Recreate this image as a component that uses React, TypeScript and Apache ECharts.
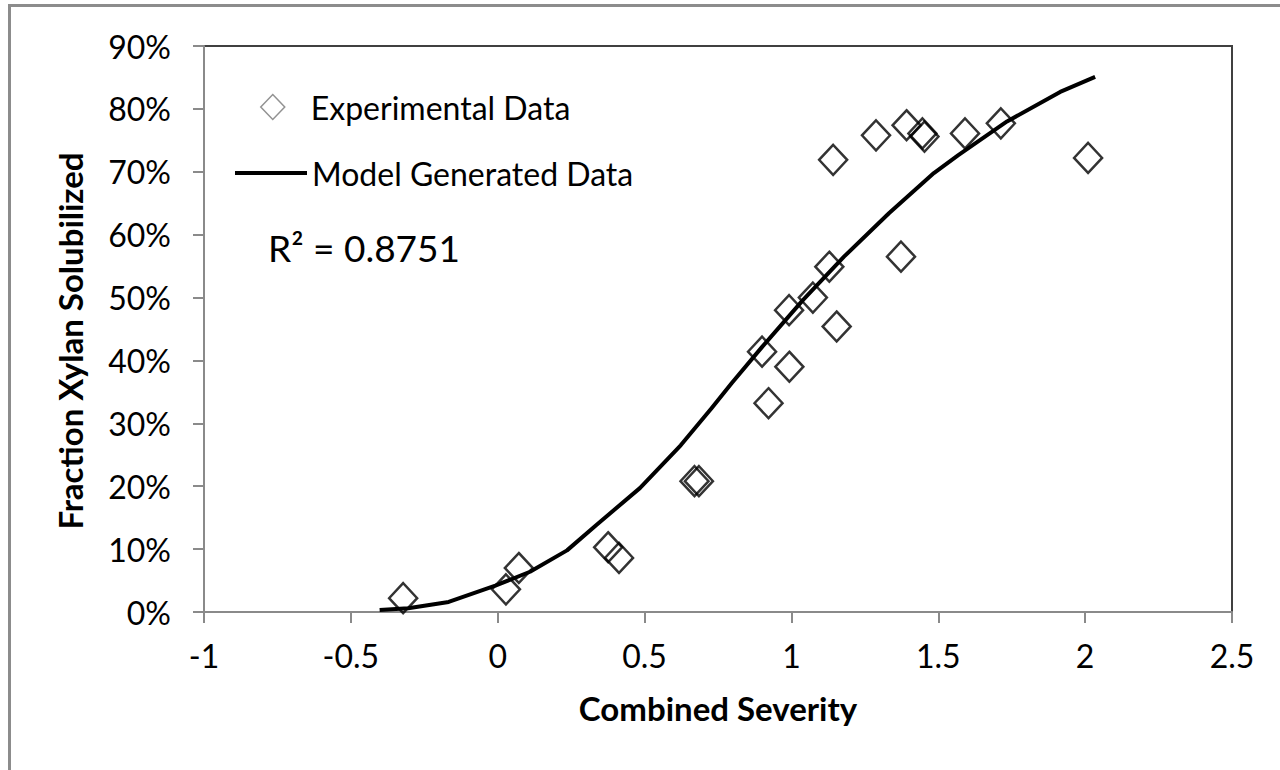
import React, { useEffect, useRef } from "react";
import * as echarts from "echarts";

const expX = [-0.322, 0.028, 0.072, 0.376, 0.413, 0.67, 0.685, 0.9, 0.922, 0.993, 0.992, 1.073, 1.129, 1.154, 1.142, 1.288, 1.373, 1.392, 1.446, 1.453, 1.591, 1.713, 2.01];
const expY = [2.2, 3.6, 7.0, 10.3, 8.6, 20.8, 20.8, 41.4, 33.2, 39.0, 48.0, 50.0, 54.9, 45.4, 71.9, 75.8, 56.5, 77.4, 76.1, 75.6, 76.1, 77.7, 72.2];

const modelX = [-0.402, -0.305, -0.167, -0.008, 0.11, 0.236, 0.335, 0.484, 0.623, 0.728, 0.797, 0.901, 1.039, 1.179, 1.332, 1.485, 1.567, 1.734, 1.915, 2.034];
const modelY = [0.3, 0.6, 1.6, 4.2, 6.4, 9.8, 13.8, 19.7, 26.5, 32.4, 36.4, 42.2, 49.6, 56.5, 63.4, 69.8, 72.6, 78.0, 82.7, 85.1];

const xTicks = { min: -1, max: 2.5, interval: 0.5 };
const yTicks = { min: 0, max: 90, interval: 10 };

const FONT = "Lato";

export default function App() {
  const ref = useRef<HTMLDivElement>(null);
  useEffect(() => {
    if (!ref.current) return;
    const chart = echarts.init(ref.current, undefined, { renderer: "svg" });
    const axisLine = { show: true, onZero: false, lineStyle: { color: "#8a8a8a", width: 2 } };
    const axisTick = { show: true, inside: false, length: 11, lineStyle: { color: "#8a8a8a", width: 2 } };
    chart.setOption({
      animation: false,
      backgroundColor: "#fff",
      grid: {
        left: 204,
        right: 48,
        top: 46,
        bottom: 158,
        show: true,
        borderColor: "#404040",
        borderWidth: 2,
        containLabel: false,
      },
      legend: [
        {
          data: [{ name: "Experimental Data", icon: "diamond" }],
          left: 255,
          top: 86,
          orient: "vertical",
          itemWidth: 24,
          itemHeight: 25,
          itemStyle: { color: "#fff", borderColor: "#777", borderWidth: 1.5 },
          textStyle: { fontFamily: FONT, fontSize: 32, color: "#000", padding: [0, 0, 0, 21] },
          selectedMode: false,
        },
        {
          data: [{ name: "Model Generated Data", icon: "rect" }],
          left: 230,
          top: 152,
          orient: "vertical",
          itemWidth: 72,
          itemHeight: 4,
          itemStyle: { color: "#000", borderWidth: 0 },
          textStyle: { fontFamily: FONT, fontSize: 32, color: "#000" },
          selectedMode: false,
        },
      ],
      xAxis: {
        type: "value",
        min: xTicks.min,
        max: xTicks.max,
        interval: xTicks.interval,
        splitLine: { show: false },
        axisLine,
        axisTick,
        axisLabel: {
          fontFamily: FONT,
          fontSize: 32,
          color: "#000",
          margin: 27,
          formatter: (v: number) => String(v),
        },
        name: "Combined Severity",
        nameLocation: "middle",
        nameGap: 79,
        nameTextStyle: { fontFamily: FONT, fontSize: 33, fontWeight: "bold", color: "#000" },
      },
      yAxis: {
        type: "value",
        min: yTicks.min,
        max: yTicks.max,
        interval: yTicks.interval,
        splitLine: { show: false },
        axisLine,
        axisTick,
        axisLabel: {
          fontFamily: FONT,
          fontSize: 32,
          color: "#000",
          margin: 33,
          formatter: "{value}%",
        },
        name: "Fraction Xylan Solubilized",
        nameLocation: "middle",
        nameGap: 118,
        nameRotate: 90,
        nameTextStyle: {
          fontFamily: FONT,
          fontSize: 33,
          fontWeight: "bold",
          color: "#000",
          padding: [0, 24, 0, 0],
        },
      },
      graphic: [
        { type: "line", shape: { x1: 8, y1: 5.5, x2: 1280, y2: 5.5 }, style: { stroke: "#8c8c8c", lineWidth: 3 }, silent: true },
        { type: "line", shape: { x1: 9.5, y1: 4, x2: 9.5, y2: 770 }, style: { stroke: "#8c8c8c", lineWidth: 3 }, silent: true },
        {
          type: "text",
          left: 268,
          top: 229,
          style: { text: "R² = 0.8751", font: `37px ${FONT}`, fill: "#000" },
          silent: true,
        },
      ],
      series: [
        {
          name: "Model Generated Data",
          type: "line",
          data: modelX.map((x, i) => [x, modelY[i]]),
          symbol: "none",
          smooth: false,
          lineStyle: { color: "#000", width: 4 },
          itemStyle: { color: "#000" },
          z: 2,
        },
        {
          name: "Experimental Data",
          type: "scatter",
          data: expX.map((x, i) => [x, expY[i]]),
          symbol: "diamond",
          symbolSize: [28, 30],
          itemStyle: { color: "transparent", borderColor: "#000", borderWidth: 2.5 },
          z: 3,
        },
      ],
    });
    return () => chart.dispose();
  }, []);
  return (
    <div
      ref={ref}
      style={{ position: "fixed", left: 0, top: 0, width: 1280, height: 770, background: "#fff" }}
    />
  );
}
